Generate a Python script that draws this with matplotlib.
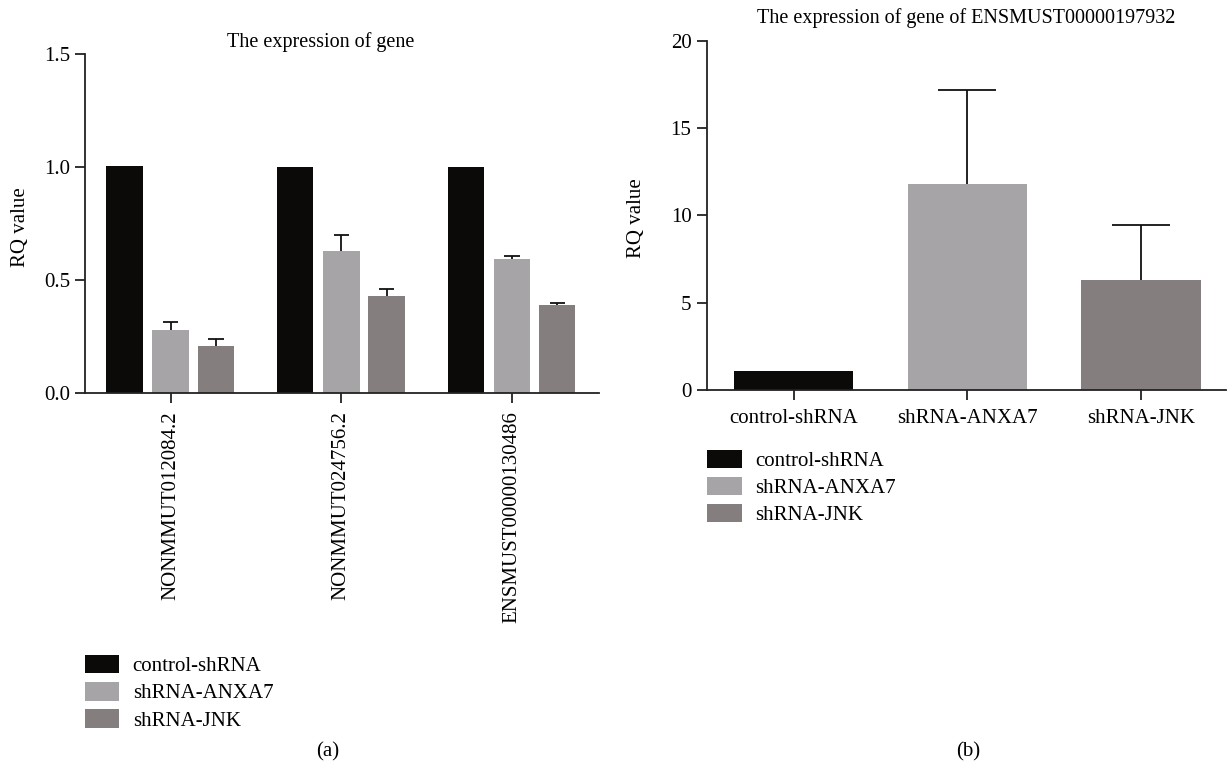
import matplotlib
matplotlib.use("Agg")
import matplotlib.pyplot as plt
import numpy as np
from matplotlib.patches import Patch

plt.rcParams['font.family'] = ['Liberation Serif', 'DejaVu Serif']

# ---- data ----
genes = ["NONMMUT012084.2", "NONMMUT024756.2", "ENSMUST00000130486"]
groups = ["control-shRNA", "shRNA-ANXA7", "shRNA-JNK"]
left_means = {
    "control-shRNA": [1.006, 1.001, 1.001],
    "shRNA-ANXA7": [0.280, 0.630, 0.594],
    "shRNA-JNK": [0.209, 0.430, 0.391],
}
left_errs = {
    "control-shRNA": [0.0, 0.0, 0.0],
    "shRNA-ANXA7": [0.034, 0.070, 0.015],
    "shRNA-JNK": [0.033, 0.033, 0.010],
}
right_means = [1.09, 11.8, 6.30]
right_errs = [0.0, 5.4, 3.15]
left_yticks = [0.0, 0.5, 1.0, 1.5]
right_yticks = [0, 5, 10, 15, 20]

colors = {"control-shRNA": "#0b0a09", "shRNA-ANXA7": "#a6a4a7", "shRNA-JNK": "#847f7e"}
axcol = "#222222"
fs = 15

W, H = 1228, 773
fig = plt.figure(figsize=(W / 100, H / 100), dpi=100)

def fx(px):
    return px / W

def fy(py):
    return 1 - py / H

def style(ax):
    for s in ["top", "right"]:
        ax.spines[s].set_visible(False)
    for s in ["left", "bottom"]:
        ax.spines[s].set_linewidth(1.3)
        ax.spines[s].set_color(axcol)
    ax.tick_params(axis="both", direction="out", length=7, width=1.3, color=axcol,
                   labelsize=fs, pad=4)

def upper_err(ax, xs, ys, es, half):
    xs = np.asarray(xs, float)
    ys = np.asarray(ys, float)
    es = np.asarray(es, float)
    m = es > 0
    ax.vlines(xs[m], ys[m], ys[m] + es[m], color="#111111", lw=1.3, zorder=3)
    ax.hlines(ys[m] + es[m], xs[m] - half, xs[m] + half, color="#111111", lw=1.3, zorder=3)

# ---- left panel ----
axL = fig.add_axes([fx(85.3), fy(393.3), fx(599 - 85.3), (393.3 - 54) / H])
style(axL)
x = np.arange(len(genes))
offs = [-0.27, 0.0, 0.265]
bw = 0.214
for g, o in zip(groups, offs):
    axL.bar(x + o, left_means[g], width=bw, color=colors[g], zorder=2)
    upper_err(axL, x + o, left_means[g], left_errs[g], 0.045)
axL.set_xlim(-0.5, 2.51)
axL.set_ylim(0, 1.5)
axL.set_yticks(left_yticks)
axL.set_yticklabels([f"{v:.1f}" for v in left_yticks])
axL.set_xticks(x)
axL.set_xticklabels(genes, rotation=90, fontsize=fs)
axL.tick_params(axis="x", pad=6)

# ---- right panel ----
axR = fig.add_axes([fx(706.7), fy(390), fx(1226 - 706.7), (390 - 41) / H])
style(axR)
xr = np.arange(len(groups))
axR.bar(xr, right_means, width=0.687, color=[colors[g] for g in groups], zorder=2)
upper_err(axR, xr, right_means, right_errs, 0.167)
axR.set_xlim(-0.5, 2.49)
axR.set_ylim(0, 20)
axR.set_yticks(right_yticks)
axR.set_xticks(xr)
axR.set_xticklabels(groups, fontsize=fs)
axR.tick_params(axis="x", pad=7)

# ---- titles / labels ----
fig.text(fx(321), fy(47), "The expression of gene", ha="center", va="baseline", fontsize=14.5)
fig.text(fx(966), fy(23), "The expression of gene of ENSMUST00000197932", ha="center",
         va="baseline", fontsize=14.5)
fig.text(fx(20), fy(227), "RQ value", rotation=90, ha="center", va="center", fontsize=fs)
fig.text(fx(637), fy(218), "RQ value", rotation=90, ha="center", va="center", fontsize=fs)
fig.text(fx(328), fy(752), "(a)", ha="center", va="center", fontsize=fs)
fig.text(fx(968), fy(752), "(b)", ha="center", va="center", fontsize=fs)

# ---- legends ----
handles = [Patch(facecolor=colors[g], edgecolor="none", label=g) for g in groups]
for (px, py) in [(85, 655), (707.3, 449.5)]:
    fig.legend(handles=handles, loc="upper left", bbox_to_anchor=(fx(px), fy(py)),
               frameon=False, borderpad=0, borderaxespad=0, fontsize=fs,
               handlelength=1.65, handleheight=0.98, labelspacing=0.28, handletextpad=0.64)

fig.savefig("out.png", dpi=100)
